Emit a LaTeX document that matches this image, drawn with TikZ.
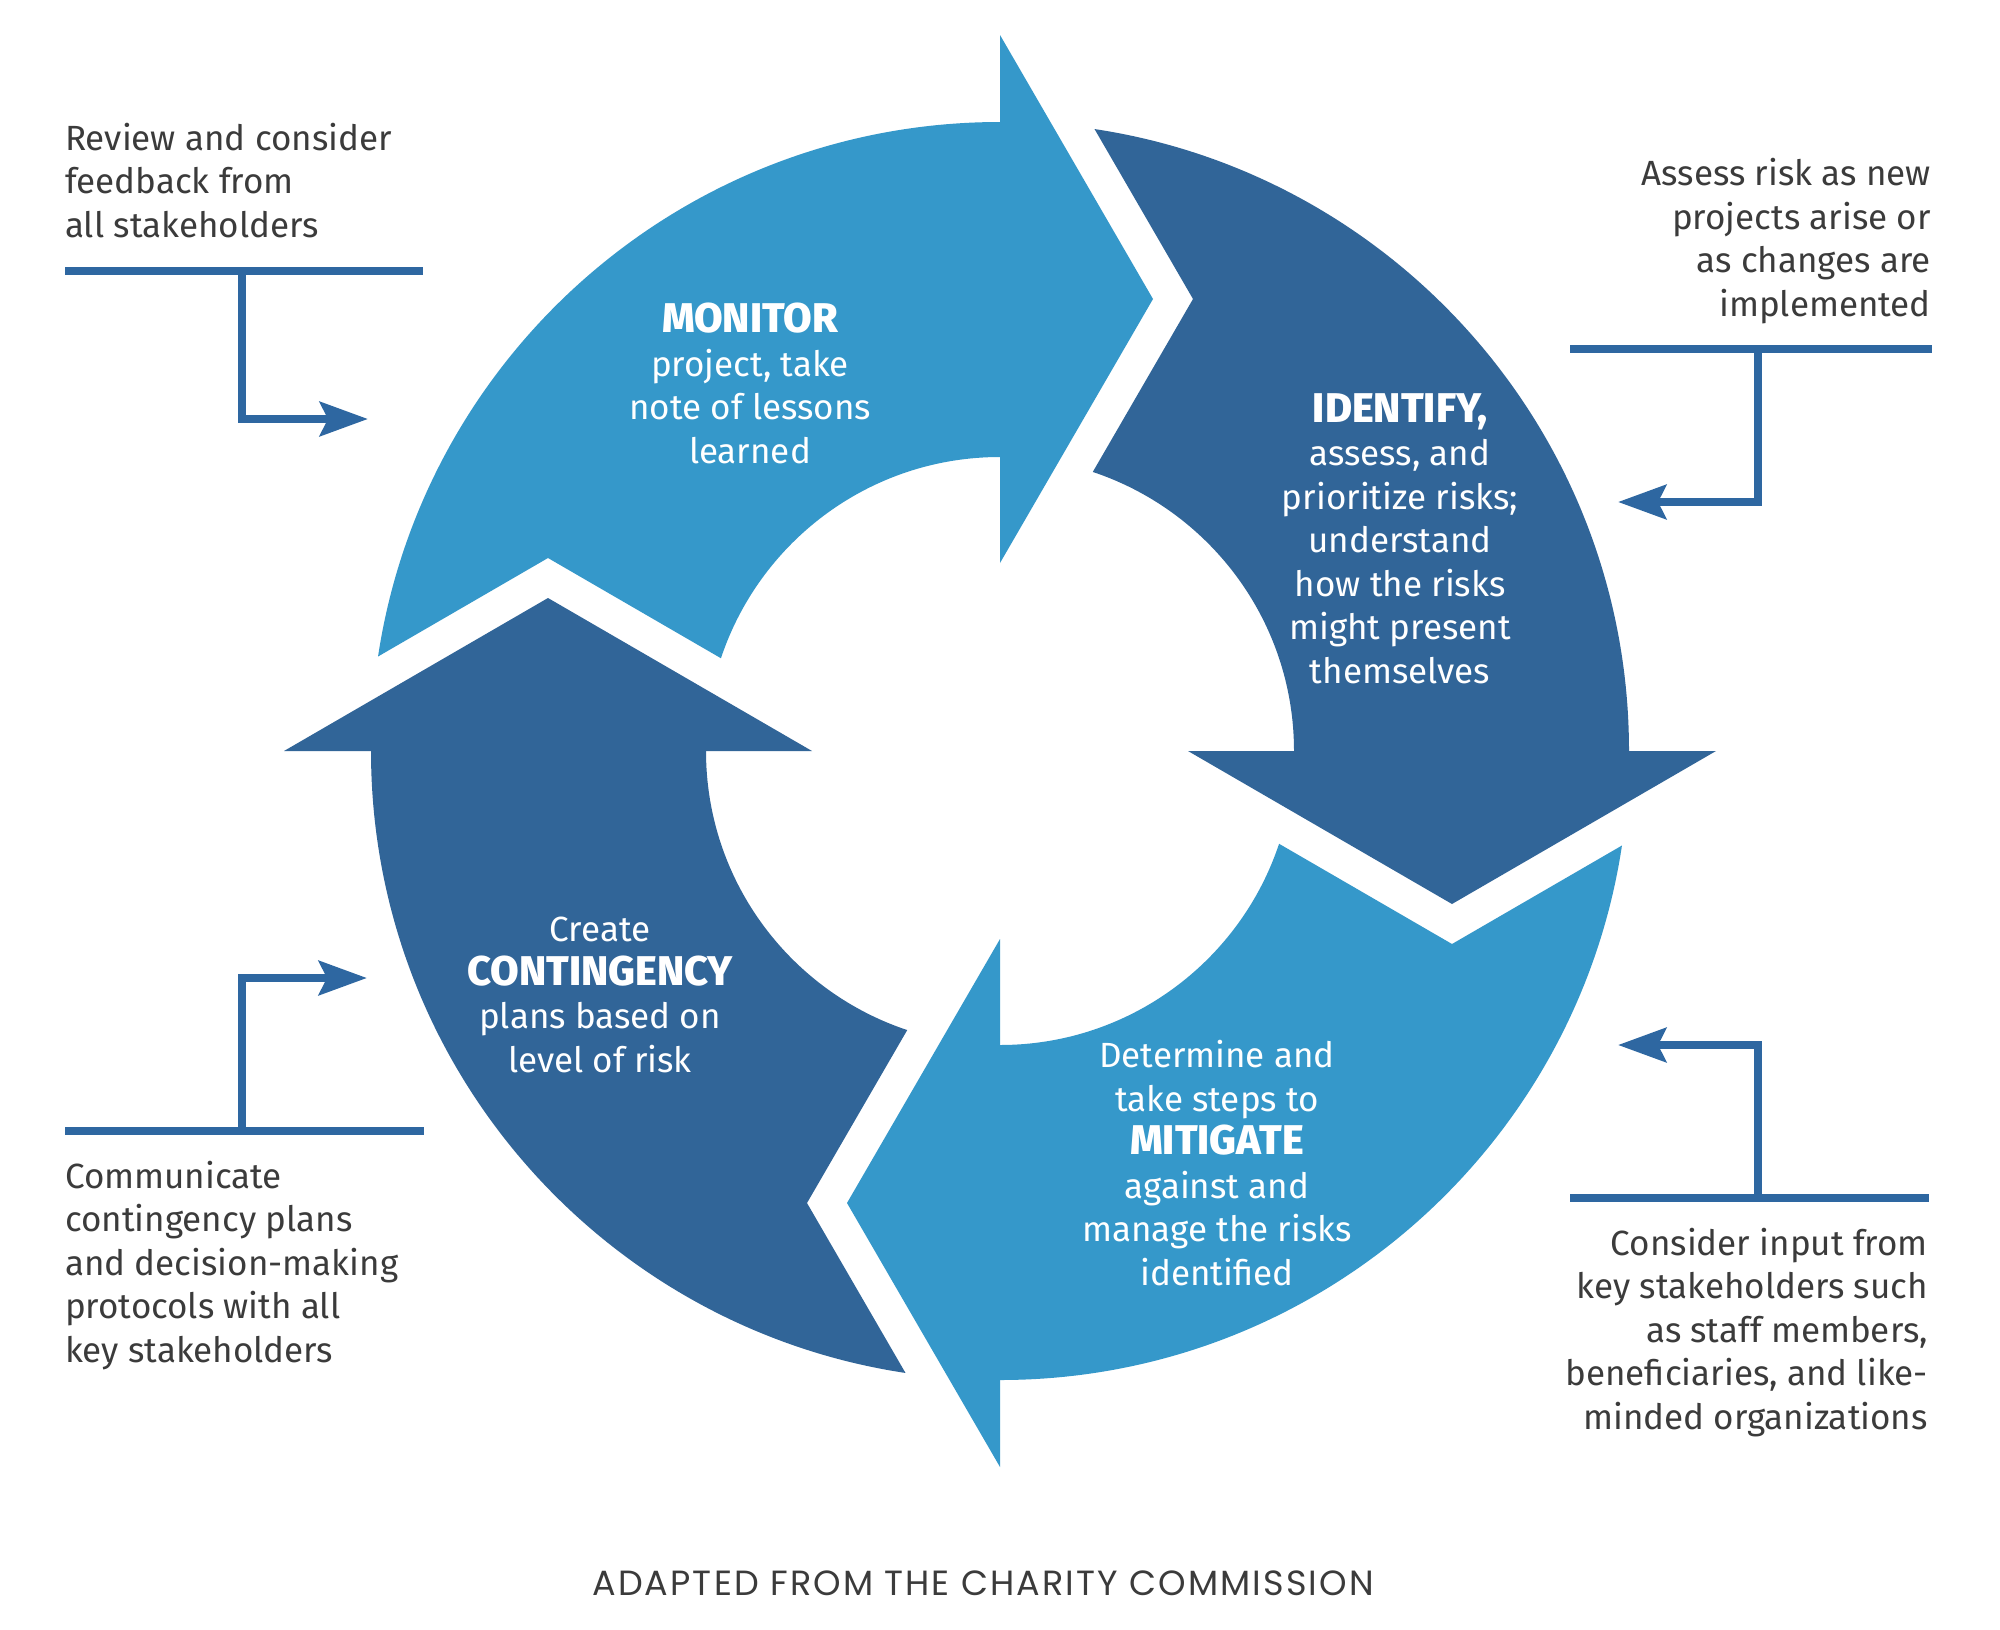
\documentclass[tikz,border=0pt]{standalone}
\usepackage{fontspec}
\setmainfont{Fira Sans}
\newfontfamily\heavyfont{Fira Sans ExtraBold}
\newfontfamily\capfont[LetterSpace=6]{Poppins}
\usetikzlibrary{arrows.meta}
\definecolor{lightb}{HTML}{3598CA}
\definecolor{darkb}{HTML}{316598}
\definecolor{linecol}{HTML}{2E67A1}
\definecolor{textgray}{HTML}{3B3B3B}
% one quarter of the ring: colour, rotation (clockwise = negative)
\newcommand\ringpiece[2]{%
  \begin{scope}[shift={(c)}, rotate=#2]
    \begin{scope}
      \clip (-452,-193) -- (-56,36.5) -- (1,36.5) -- (1,-1200) -- (-1200,-1200) -- (-1112,189.5) -- cycle;
      \fill[#1, even odd rule] (0,0) circle[radius=629] (0,0) circle[radius=294];
    \end{scope}
    \fill[#1] (0,-716) -- (153,-452) -- (0,-188) -- cycle;
  \end{scope}}
\newcommand\bigword[1]{{\heavyfont\fontsize{41.5}{43.5}\selectfont #1}}
\begin{document}
\begin{tikzpicture}[x=1pt,y=-1pt,
  sidetext/.style={text=textgray, font=\fontsize{35}{43.5}\selectfont, inner sep=0pt, anchor=base},
  ctext/.style={text=white, align=center, font=\fontsize{35}{43.5}\selectfont, inner sep=0pt, anchor=base},
  sideline/.style={draw=linecol, line width=8.5pt},
  sidearrow/.style={sideline, line join=miter, -{Stealth[length=48pt, width=34pt, inset=8pt]}}]
\fill[white] (0,0) rectangle (2000,1630);
\useasboundingbox (0,0) rectangle (2000,1630);
\coordinate (c) at (1000,751);
\ringpiece{lightb}{0}     % MONITOR
\ringpiece{darkb}{-90}    % IDENTIFY
\ringpiece{lightb}{-180}  % MITIGATE
\ringpiece{darkb}{-270}   % CONTINGENCY

% centre texts (anchor = baseline of the last line)
\node[ctext] (monitor) at (750,463) {\bigword{MONITOR}\\project, take\\note of lessons\\learned};
\node[ctext] (identify) at (1400,683) {\bigword{IDENTIFY,}\\assess, and\\prioritize risks;\\understand\\how the risks\\might present\\themselves};
\node[ctext] (contingency) at (600,1072) {Create\\\bigword{CONTINGENCY}\\plans based on\\level of risk};
\node[ctext] (mitigate) at (1217,1285) {Determine and\\take steps to\\\bigword{MITIGATE}\\against and\\manage the risks\\identified};

% side texts
\node[sidetext, anchor=base west, align=left] (tl) at (65,237) {Review and consider\\feedback from\\all stakeholders};
\node[sidetext, anchor=base east, align=right] (tr) at (1931,316) {Assess risk as new\\projects arise or\\as changes are\\implemented};
\node[sidetext, anchor=base west, align=left] (bl) at (65,1362) {Communicate\\contingency plans\\and decision-making\\protocols with all\\key stakeholders};
\node[sidetext, anchor=base east, align=right] (br) at (1928,1429) {Consider input from\\key stakeholders such\\as staff members,\\beneficiaries, and like-\\minded organizations};

% side connectors
\coordinate (tlA) at (65,271); \coordinate (tlB) at (423,271);
\coordinate (tlJ) at (242,271); \coordinate (tlT) at (368,419);
\draw[sideline] (tlA) -- (tlB);
\draw[sidearrow] (tlJ) |- (tlT);
\coordinate (trA) at (1570,349); \coordinate (trB) at (1932,349);
\coordinate (trJ) at (1758,349); \coordinate (trT) at (1618,502);
\draw[sideline] (trA) -- (trB);
\draw[sidearrow] (trJ) |- (trT);
\coordinate (blA) at (65,1131); \coordinate (blB) at (424,1131);
\coordinate (blJ) at (242,1131); \coordinate (blT) at (367,978);
\draw[sideline] (blA) -- (blB);
\draw[sidearrow] (blJ) |- (blT);
\coordinate (brA) at (1570,1198); \coordinate (brB) at (1929,1198);
\coordinate (brJ) at (1758,1198); \coordinate (brT) at (1618,1045);
\draw[sideline] (brA) -- (brB);
\draw[sidearrow] (brJ) |- (brT);

% caption
\node[inner sep=0pt, anchor=base, text=textgray, font={\capfont\fontsize{35}{40}\selectfont}] (caption) at (983,1595) {ADAPTED FROM THE CHARITY COMMISSION};
\end{tikzpicture}
\end{document}
